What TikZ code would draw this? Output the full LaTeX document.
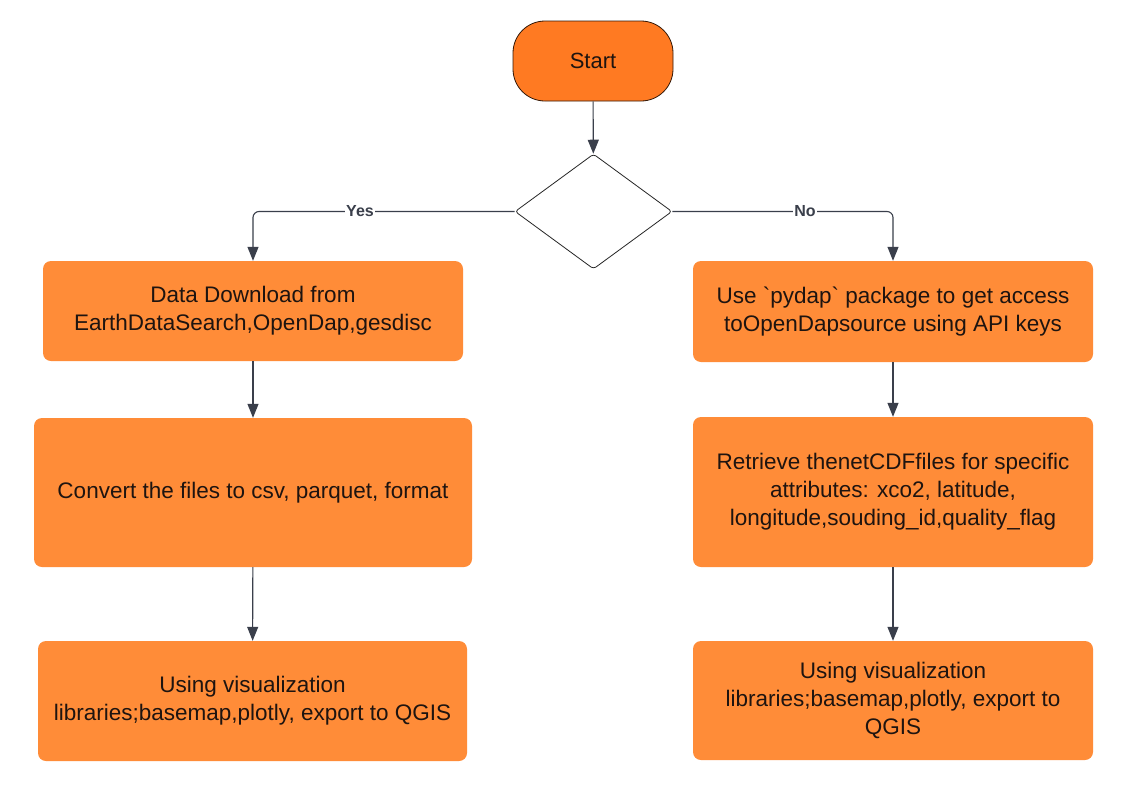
\documentclass[tikz,border=0pt]{standalone}
\usepackage{fontspec}
\setmainfont{Liberation Sans}[Ligatures=TeXOff]
\usetikzlibrary{arrows.meta,shapes.geometric}
\definecolor{boxor}{HTML}{FF8C38}
\definecolor{startor}{HTML}{FF7A22}
\definecolor{linec}{HTML}{3A3F4B}
\definecolor{txt}{HTML}{1E1410}
\tikzset{
  stepbox/.style={fill=boxor, draw=none, rounded corners=8pt, align=center,
    text=txt, font=\fontsize{22.5}{28}\selectfont, inner sep=0pt},
  conn/.style={draw=linec, line width=1.1pt, -{Triangle[length=14pt,width=11pt]}},
  lbl/.style={fill=white, font=\bfseries\fontsize{16}{18}\selectfont, text=linec, inner sep=1.5pt}
}
\begin{document}
\begin{tikzpicture}[x=1pt,y=-1pt]
\useasboundingbox[fill=white] (0,0) rectangle (1127,806);
\node[fill=startor, draw=black!80!startor, line width=0.8pt, rounded corners=32pt,
  minimum width=160pt, minimum height=80pt, inner sep=0pt, text=txt,
  font=\fontsize{22}{24}\selectfont] (start) at (593,61) {Start};
\node[diamond, draw=black!85, line width=0.8pt, fill=white, rounded corners=3pt,
  minimum width=157pt, minimum height=115pt, inner sep=0pt] (dec) at (593.5,211.5) {};
\node[stepbox, minimum width=420pt, minimum height=100pt] (l1) at (253,311)
  {Data Download from\\EarthDataSearch,OpenDap,gesdisc};
\node[stepbox, minimum width=438pt, minimum height=149pt] (l2) at (253,492.5)
  {Convert the files to csv, parquet, format};
\node[stepbox, minimum width=429pt, minimum height=120pt] (l3) at (252.5,701)
  {Using visualization\\libraries;basemap,plotly, export to QGIS};
\node[stepbox, minimum width=400pt, minimum height=101pt] (r1) at (893,311.5)
  {Use `pydap` package to get access\\toOpenDapsource using API keys};
\node[stepbox, minimum width=400pt, minimum height=150pt] (r2) at (893,492)
  {Retrieve thenetCDFfiles for specific\\attributes: xco2, latitude,\\longitude,souding\_id,quality\_flag};
\node[stepbox, minimum width=400pt, minimum height=119pt] (r3) at (893,700.5)
  {Using visualization\\libraries;basemap,plotly, export to\\QGIS};
\coordinate (lc) at (253,211.5);
\coordinate (rc) at (893,211.5);
\draw[conn] (start) -- (dec);
\draw[conn, rounded corners=6pt] (dec.west) -- (lc) -- (l1.north);
\draw[conn, rounded corners=6pt] (dec.east) -- (rc) -- (r1.north);
\node[lbl] (yes) at (360,211.5) {Yes};
\node[lbl] (no) at (805,211.5) {No};
\draw[conn] (l1) -- (l2);
\draw[conn] (l2) -- (l3);
\draw[conn] (r1) -- (r2);
\draw[conn] (r2) -- (r3);
\end{tikzpicture}
\end{document}
